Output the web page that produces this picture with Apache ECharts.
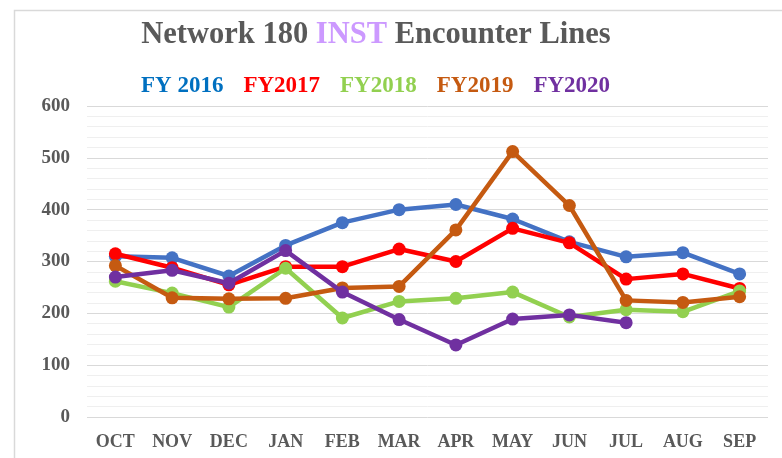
<!DOCTYPE html>
<html><head><meta charset="utf-8">
<script src="https://cdn.jsdelivr.net/npm/echarts@6/dist/echarts.min.js"></script>
<style>html,body{margin:0;padding:0;background:#fff}#c{width:782px;height:458px}</style>
</head><body><div id="c"></div>
<script>
const months = ['OCT','NOV','DEC','JAN','FEB','MAR','APR','MAY','JUN','JUL','AUG','SEP'];
const fy2016 = [310, 307, 272, 331, 375, 400, 410, 382, 338, 309, 317, 276];
const fy2017 = [315, 288, 255, 290, 290, 324, 300, 364, 336, 266, 276, 248];
const fy2018 = [262, 239, 212, 287, 191, 223, 229, 241, 193, 207, 203, 243];
const fy2019 = [292, 230, 228, 229, 249, 252, 361, 512, 408, 225, 221, 232];
const fy2020 = [270, 283, 258, 321, 241, 188, 139, 189, 197, 182];
const seriesNames = ['FY 2016','FY2017','FY2018','FY2019','FY2020'];
const lineColors = ['#4472C4','#FF0000','#92D050','#C55A11','#7030A0'];
const legendColors = ['#0070C0','#FF0000','#92D050','#C55A11','#7030A0'];
const allData = [fy2016, fy2017, fy2018, fy2019, fy2020];

const font = '"Liberation Serif", "Times New Roman", serif';
const chart = echarts.init(document.getElementById('c'));
chart.setOption({
  animation: false,
  backgroundColor: '#fff',
  graphic: [{
    type: 'rect', left: 12, top: 8, z: -10,
    shape: {width: 790, height: 470},
    style: {fill: 'none', stroke: '#d9d9d9', lineWidth: 1.5}
  }],
  title: {
    text: '{a|Network 180 }{b|INST}{a| Encounter Lines}',
    left: 371, textAlign: 'center', top: 15,
    textStyle: {
      rich: {
        a: {fontFamily: font, fontWeight: 'bold', fontSize: 30.5, color: '#595959'},
        b: {fontFamily: font, fontWeight: 'bold', fontSize: 30.5, color: '#CC99FF'}
      }
    }
  },
  legend: {
    top: 70, left: 131, width: 620,
    itemWidth: 0, itemHeight: 0, itemGap: 15,
    icon: 'rect',
    textStyle: {fontFamily: font, fontWeight: 'bold', fontSize: 23},
    data: seriesNames.map((n, i) => ({name: n, textStyle: {color: legendColors[i]}}))
  },
  grid: {left: 87, right: 14, top: 106, bottom: 41, containLabel: false},
  xAxis: {
    type: 'category', data: months, boundaryGap: true,
    axisLine: {show: false}, axisTick: {show: false},
    axisLabel: {interval: 0, fontFamily: font, fontWeight: 'bold', fontSize: 18, color: '#595959', margin: 16}
  },
  yAxis: {
    type: 'value', min: 0, max: 600, interval: 100,
    axisLine: {show: false}, axisTick: {show: false},
    axisLabel: {fontFamily: font, fontWeight: 'bold', fontSize: 19, color: '#595959', margin: 17},
    splitLine: {lineStyle: {color: '#d9d9d9', width: 1}},
    minorTick: {show: false, splitNumber: 5},
    minorSplitLine: {show: true, lineStyle: {color: '#efefef', width: 1}}
  },
  series: allData.map((d, i) => ({
    name: seriesNames[i], type: 'line', data: d,
    symbol: 'circle', symbolSize: 13,
    lineStyle: {width: 4.5, color: lineColors[i]},
    itemStyle: {color: lineColors[i]},
    z: 2 + i
  }))
});
</script></body></html>
